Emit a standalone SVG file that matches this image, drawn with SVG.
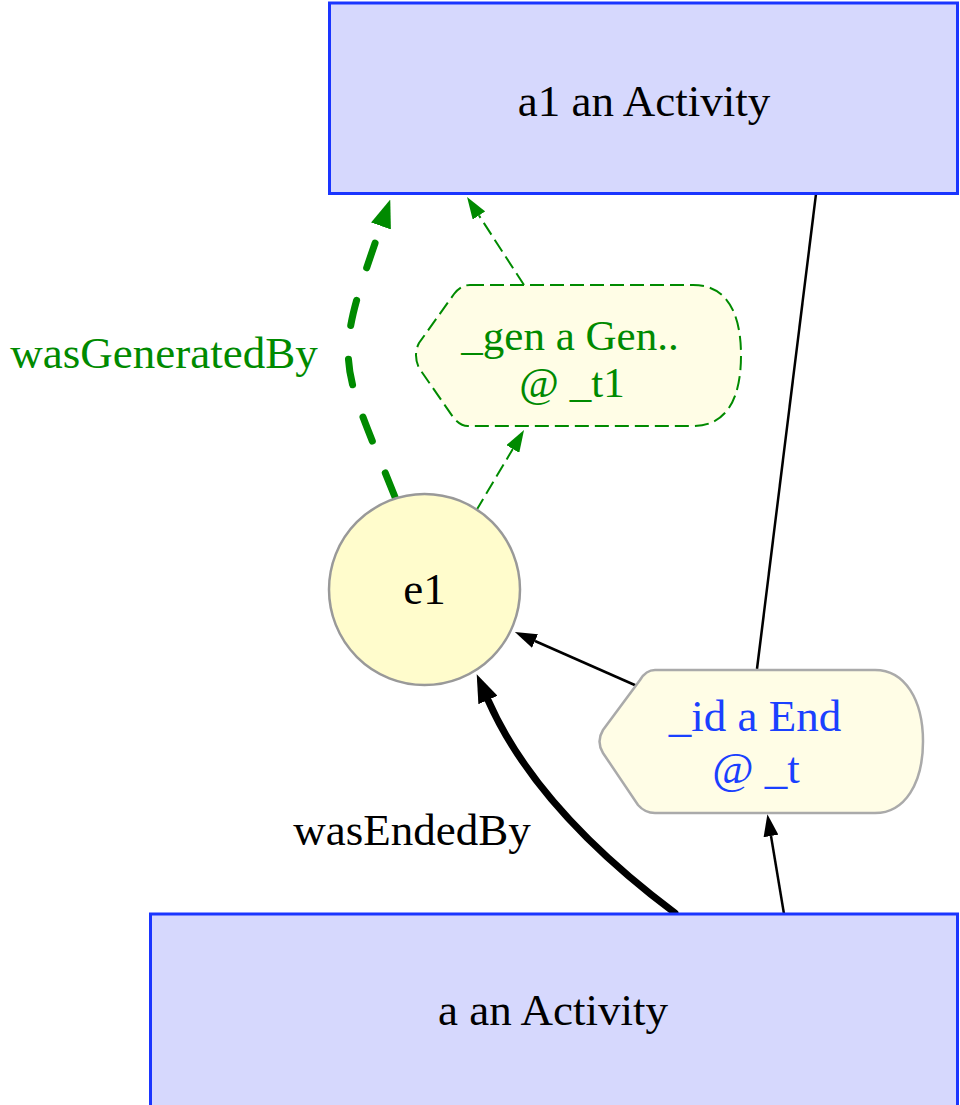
<svg xmlns="http://www.w3.org/2000/svg" width="960" height="1105" viewBox="0 0 960 1105">
<style>
  text { font-family: "Liberation Serif", "Times New Roman", serif; font-size: 45px; text-anchor: middle; }
  .act { fill: #d6d8fd; stroke: #1a35ff; stroke-width: 3; }
  .ent { fill: #fffccc; stroke: #999999; stroke-width: 2.5; }
  .evt { fill: #fffde6; stroke: #aaaaaa; stroke-width: 2.5; }
  .evtg { fill: #fffde6; stroke: #008a00; stroke-width: 2; stroke-dasharray: 14 6; }
  .blk { fill: #000000; }
  .grn { fill: #008a00; }
  .blu { fill: #1a40ff; }
  .gl { font-size: 43px; }
</style>
<defs>
  <marker id="bigG" markerUnits="userSpaceOnUse" viewBox="0 0 28 21" refX="0" refY="10.5" markerWidth="28" markerHeight="21" orient="auto">
    <path d="M0,0 L28,10.5 L0,21 Z" fill="#008a00"/>
  </marker>
  <marker id="bigK" markerUnits="userSpaceOnUse" viewBox="0 0 28 21" refX="0" refY="10.5" markerWidth="28" markerHeight="21" orient="auto">
    <path d="M0,0 L28,10.5 L0,21 Z" fill="#000000"/>
  </marker>
  <marker id="smG" markerUnits="userSpaceOnUse" viewBox="0 0 22 15" refX="0" refY="7.5" markerWidth="22" markerHeight="15" orient="auto">
    <path d="M0,0 L22,7.5 L0,15 Z" fill="#008a00"/>
  </marker>
  <marker id="smK" markerUnits="userSpaceOnUse" viewBox="0 0 22 15" refX="0" refY="7.5" markerWidth="22" markerHeight="15" orient="auto">
    <path d="M0,0 L22,7.5 L0,15 Z" fill="#000000"/>
  </marker>
</defs>

<g id="connectors" fill="none">
  <path d="M395,497 C339,357 332,366 381,226" stroke="#008a00" stroke-width="7" stroke-linecap="round" stroke-dasharray="26 34" marker-end="url(#bigG)"/>
  <path d="M476,511 L512.8,449" stroke="#008a00" stroke-width="2" stroke-dasharray="14 6" marker-end="url(#smG)"/>
  <path d="M524,285 L479,215.5" stroke="#008a00" stroke-width="2" stroke-dasharray="14 6" marker-end="url(#smG)"/>
  <path d="M816,194 L757,669" stroke="#000000" stroke-width="2.5"/>
  <path d="M637,686 L535,641" stroke="#000000" stroke-width="2.5" marker-end="url(#smK)"/>
  <path d="M784,914 L771,836" stroke="#000000" stroke-width="2.5" marker-end="url(#smK)"/>
  <path d="M675,913 Q536,809 488,700" stroke="#000000" stroke-width="7" stroke-linecap="round" marker-end="url(#bigK)"/>
  <text x="164" y="368" class="grn">wasGeneratedBy</text>
  <text x="412" y="845" class="blk">wasEndedBy</text>
</g>

<g id="a1">
  <rect class="act" x="329.5" y="3" width="628" height="190.5"/>
  <text x="644" y="116" class="blk">a1 an Activity</text>
</g>

<g id="gen">
  <path class="evtg" d="M470,285 H693 C725,285 741,310 741,355.5 C741,401 725,426 693,426 H468 Q460,426 453,417 L419,368 Q413,355 419,343 L454,294 Q461,285 470,285 Z"/>
  <text x="570" y="350" class="grn gl">_gen a Gen..</text>
  <text x="572" y="397" class="grn gl">@ _t1</text>
</g>

<g id="e1">
  <circle class="ent" cx="424.5" cy="589.5" r="95.5"/>
  <text x="424.5" y="604" class="blk">e1</text>
</g>

<g id="end">
  <path class="evt" d="M655,670 H875 C905,670 923,700 923,741.5 C923,783 905,813 875,813 H655 Q645,813 638,805 L603,753 Q596,741.5 603,730 L640,680 Q646,670 655,670 Z"/>
  <text x="755" y="731" class="blu">_id a End</text>
  <text x="756" y="783" class="blu">@ _t</text>
</g>

<g id="a">
  <rect class="act" x="150.5" y="914" width="807" height="200"/>
  <text x="553" y="1025" class="blk">a an Activity</text>
</g>
</svg>
